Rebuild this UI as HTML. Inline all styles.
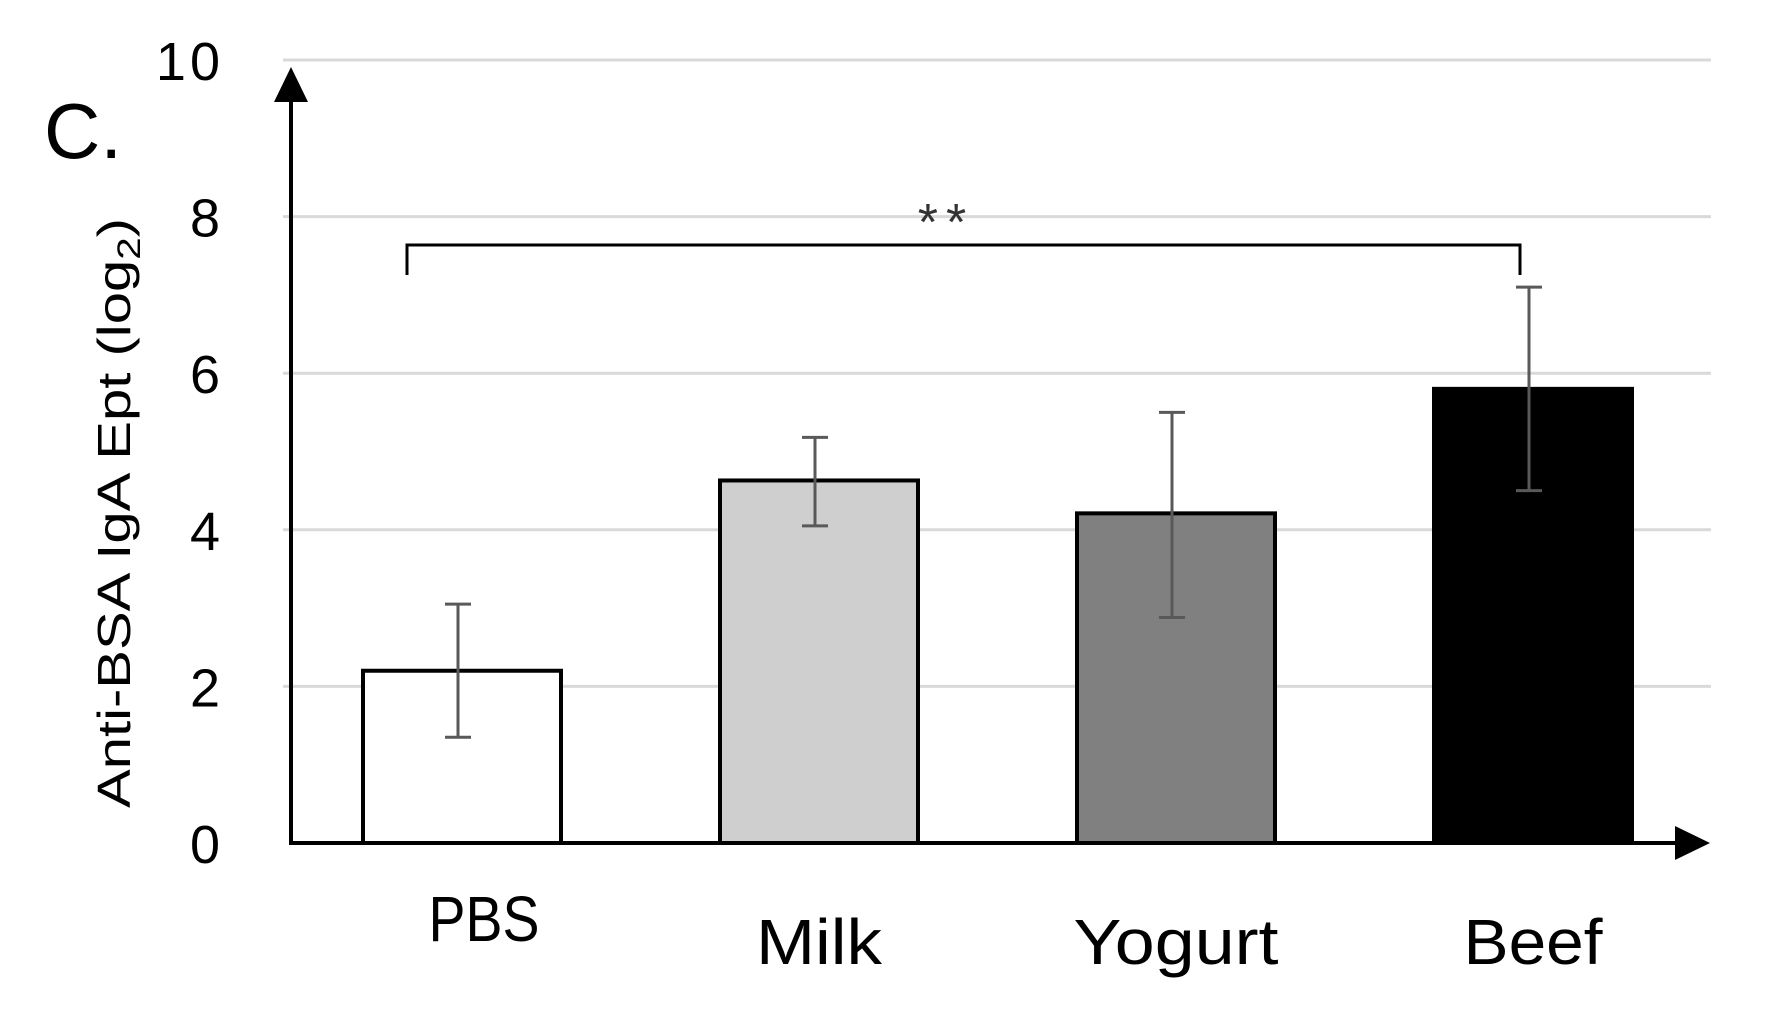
<!DOCTYPE html>
<html><head><meta charset="utf-8"><style>
html,body{margin:0;padding:0;background:#fff;}
svg{display:block;font-family:"Liberation Sans",sans-serif;}
</style></head><body>
<svg id="chart" width="1767" height="1019" viewBox="0 0 1767 1019" xmlns="http://www.w3.org/2000/svg">
<text x="44" y="158" font-size="78" fill="#000">C.</text>
<text transform="translate(130,513) rotate(-90)" text-anchor="middle" font-size="46" textLength="590" lengthAdjust="spacingAndGlyphs" fill="#000">Anti-BSA IgA Ept (log<tspan font-size="32" dy="10">2</tspan><tspan dy="-10">)</tspan></text>
<g id="grid"></g><g id="yticks"></g><g id="bars"></g><g id="errs"></g><g id="xlabels"></g>
<line x1="291" y1="845" x2="291" y2="95" stroke="#000" stroke-width="4"/>
<polygon points="291,67 274,102 308,102" fill="#000"/>
<line x1="289" y1="843" x2="1680" y2="843" stroke="#000" stroke-width="4"/>
<polygon points="1710,843 1675,826 1675,860" fill="#000"/>
<path d="M407,275 L407,245 L1520,245 L1520,275" fill="none" stroke="#000" stroke-width="3"/>
<text x="946" y="240" text-anchor="middle" font-size="52" fill="#333" letter-spacing="8">**</text>
</svg>
<script>
const categories = ["PBS","Milk","Yogurt","Beef"];
const values = [2.2, 4.63, 4.21, 5.8];
const errLow = [1.35, 4.05, 2.88, 4.5];
const errHigh = [3.05, 5.18, 5.5, 7.1];
const fills = ["#ffffff","#d0cfd0","#808080","#000000"];
const yTicks = [0,2,4,6,8,10];
const labelWidths = [111, 126, 205, 139];
const NS="http://www.w3.org/2000/svg";
const x0=291, x1=1711, y0=843, y10=60;
const band=357, barW=198, firstCenter=462;
function y(v){return y0-(y0-y10)*v/10;}
function cx(i){return firstCenter+band*i;}
function mk(t,a,p){const e=document.createElementNS(NS,t);for(const k in a)e.setAttribute(k,a[k]);p.appendChild(e);return e;}
const g=document.getElementById('grid'),yt=document.getElementById('yticks'),b=document.getElementById('bars'),er=document.getElementById('errs'),xl=document.getElementById('xlabels');
yTicks.forEach(t=>{
  if(t>0){const l=mk('line',{x1:x0-8,x2:x1,y1:y(t),y2:y(t),stroke:'#d9d9d9','stroke-width':3},g);
  
  }
  const tx=mk('text',{x:224,y:y(t)+20,'text-anchor':'end','font-size':54,'letter-spacing':4,fill:'#000'},yt);
  tx.textContent=t;
  
  
});
categories.forEach((c,i)=>{
  const r=mk('rect',{x:cx(i)-barW/2,y:y(values[i]),width:barW,height:y(0)-y(values[i]),fill:fills[i],stroke:'#000','stroke-width':4},b);
  
  
  const ex=cx(i)-4;
  const p=mk('path',{d:`M${ex},${y(errLow[i])}V${y(errHigh[i])}M${ex-13},${y(errLow[i])}H${ex+13}M${ex-13},${y(errHigh[i])}H${ex+13}`,stroke:'#595959','stroke-width':3,fill:'none'},er);
  
  
  const ty=i===0?941:964;
  const lx=i===0?cx(i)+22:cx(i);
  const tx=mk('text',{x:lx,y:ty,'text-anchor':'middle','font-size':64,textLength:labelWidths[i],lengthAdjust:'spacingAndGlyphs',fill:'#000'},xl);
  tx.textContent=c;
  
  
});
</script>
</body></html>
